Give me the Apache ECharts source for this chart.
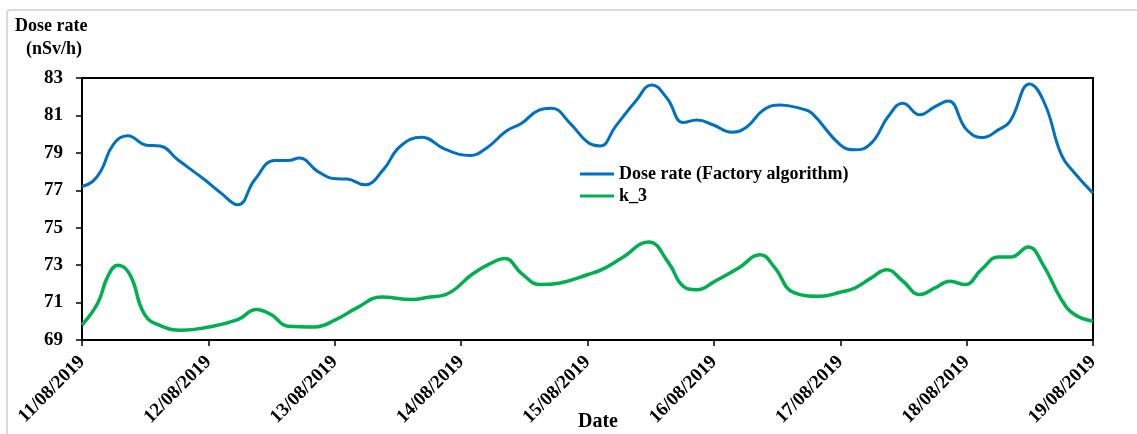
<!DOCTYPE html>
<html>
<head>
<meta charset="utf-8">
<title>Dose rate</title>
<script src="https://cdn.jsdelivr.net/npm/echarts@6/dist/echarts.min.js"></script>
<style>
  html, body { margin: 0; padding: 0; background: #ffffff; }
  #wrap { position: relative; width: 1137px; height: 434px; overflow: hidden; }
  #frame { position: absolute; left: 6px; top: 9px; width: 1200px; height: 500px;
           border-left: 2px solid #d9d9d9; border-top: 2px solid #d9d9d9; border-radius: 4px 0 0 0; }
  #chart { position: absolute; left: 0; top: 0; width: 1137px; height: 434px; }
</style>
</head>
<body>
<div id="wrap">
  <div id="frame"></div>
  <div id="chart"></div>
</div>
<script>
// Day labels on the x axis (one tick every 24 h)
const dateLabels = ['11/08/2019', '12/08/2019', '13/08/2019', '14/08/2019', '15/08/2019',
                    '16/08/2019', '17/08/2019', '18/08/2019', '19/08/2019'];

// Dose rate (Factory algorithm): hours since 11/08/2019 00:00, and nSv/h
const doseHours = [0, 2, 3.7, 5.9, 8.7, 12.2, 14.8, 18.2, 23.3, 26.4, 29.6, 32.8, 36.6, 39.1, 41.3,
                   44.8, 48.3, 50.3, 53.7, 57.2, 60.4, 64.5, 68.9, 73.7, 76.8, 80.6, 83.5, 86.6, 89.2,
                   92.7, 96.1, 98.4, 101.3, 105.1, 108.2, 111.1, 114.2, 116.8, 119.9, 123.4, 126.3,
                   129.4, 132.6, 136.7, 138.6, 144.0, 146.8, 149.9, 153.1, 155.9, 159.1, 162.0, 164.5,
                   168.0, 171.1, 174.0, 176.2, 180.0, 182.8, 186.0, 188.5, 192];
const doseValues = [77.2, 77.47, 78.09, 79.43, 79.91, 79.41, 79.37, 78.63, 77.56, 76.85, 76.23, 77.56,
                    78.59, 78.59, 78.72, 78.0, 77.61, 77.6, 77.29, 78.09, 79.34, 79.84, 79.2, 78.86,
                    79.25, 80.17, 80.58, 81.26, 81.38, 80.58, 79.55, 79.37, 80.4, 81.74, 82.63, 81.92,
                    80.62, 80.76, 80.49, 80.1, 80.4, 81.29, 81.56, 81.35, 81.12, 79.43, 79.16, 79.52,
                    80.94, 81.65, 81.03, 81.47, 81.77, 80.23, 79.82, 80.23, 80.67, 82.68, 81.65, 78.89,
                    77.92, 76.85];

// k_3: hours since 11/08/2019 00:00, and nSv/h
const k3Hours = [0, 3.0, 4.9, 6.8, 9.1, 11.9, 15.1, 18.9, 23.3, 29.6, 33.1, 35.9, 39.1, 44.2, 48.3,
                 52.2, 56.9, 62.6, 66.1, 68.9, 74.3, 77.5, 80.3, 83.5, 87.0, 90.8, 96.1, 98.7, 102.5,
                 107.6, 111.4, 114.2, 116.8, 120.2, 124.7, 128.8, 131.6, 135.1, 140.2, 144.0, 146.8,
                 149.9, 152.8, 155.9, 159.1, 162.0, 164.8, 167.7, 170.8, 174.0, 176.5, 179.7, 182.5,
                 186.0, 188.5, 192];
const k3Values = [69.8, 70.98, 72.4, 72.99, 72.49, 70.36, 69.74, 69.52, 69.65, 70.09, 70.63, 70.36,
                  69.74, 69.7, 70.1, 70.72, 71.3, 71.16, 71.3, 71.41, 72.55, 73.08, 73.35, 72.55,
                  71.96, 72.05, 72.5, 72.76, 73.38, 74.24, 73.12, 71.87, 71.69, 72.14, 72.85, 73.56,
                  72.85, 71.55, 71.34, 71.55, 71.78, 72.32, 72.76, 72.14, 71.43, 71.78, 72.14, 71.96,
                  72.76, 73.44, 73.44, 73.97, 73.03, 71.16, 70.36, 70.0];

const pair = (xs, ys) => xs.map((x, i) => [x, ys[i]]);

const FONT = '"Liberation Serif", "Times New Roman", serif';
const chart = echarts.init(document.getElementById('chart'), null, { renderer: 'canvas' });

chart.setOption({
  animation: false,
  backgroundColor: 'transparent',
  grid: {
    left: 82, right: 44, top: 78, bottom: 94,
    show: true, borderColor: '#000', borderWidth: 2, backgroundColor: 'transparent'
  },
  legend: {
    orient: 'vertical',
    left: 575, top: 160,
    itemWidth: 34, itemHeight: 3, itemGap: 4,
    icon: 'rect',
    textStyle: { fontFamily: FONT, fontWeight: 'bold', fontSize: 18, color: '#000' },
    data: ['Dose rate (Factory algorithm)', 'k_3']
  },
  xAxis: {
    type: 'value',
    min: 0, max: 192, interval: 24,
    axisLine: { show: true, lineStyle: { color: '#000', width: 2 } },
    axisTick: { show: true, inside: false, length: 6, lineStyle: { color: '#000', width: 1.5 } },
    splitLine: { show: false },
    axisLabel: {
      rotate: 45, margin: 19,
      fontFamily: FONT, fontWeight: 'bold', fontSize: 19, color: '#000',
      formatter: v => dateLabels[Math.round(v / 24)]
    }
  },
  yAxis: {
    type: 'value',
    min: 69, max: 83, interval: 2,
    axisLine: { show: true, lineStyle: { color: '#000', width: 2 } },
    axisTick: { show: true, inside: false, length: 6, lineStyle: { color: '#000', width: 1.5 } },
    splitLine: { show: false },
    axisLabel: { margin: 19, fontFamily: FONT, fontWeight: 'bold', fontSize: 19, color: '#000' }
  },
  graphic: [
    { type: 'text', left: 15, top: 17,
      style: { text: 'Dose rate', font: 'bold 18px ' + FONT, fill: '#000' } },
    { type: 'text', left: 26, top: 40,
      style: { text: '(nSv/h)', font: 'bold 18px ' + FONT, fill: '#000' } },
    { type: 'text', left: 578, top: 412,
      style: { text: 'Date', font: 'bold 20px ' + FONT, fill: '#000' } }
  ],
  series: [
    {
      name: 'Dose rate (Factory algorithm)',
      type: 'line',
      data: pair(doseHours, doseValues),
      smooth: 0.45,
      symbol: 'none',
      color: '#0070C0',
      lineStyle: { width: 3, color: '#0070C0' }
    },
    {
      name: 'k_3',
      type: 'line',
      data: pair(k3Hours, k3Values),
      smooth: 0.45,
      symbol: 'none',
      color: '#00B050',
      lineStyle: { width: 3.5, color: '#00B050' }
    }
  ]
});
</script>
</body>
</html>
